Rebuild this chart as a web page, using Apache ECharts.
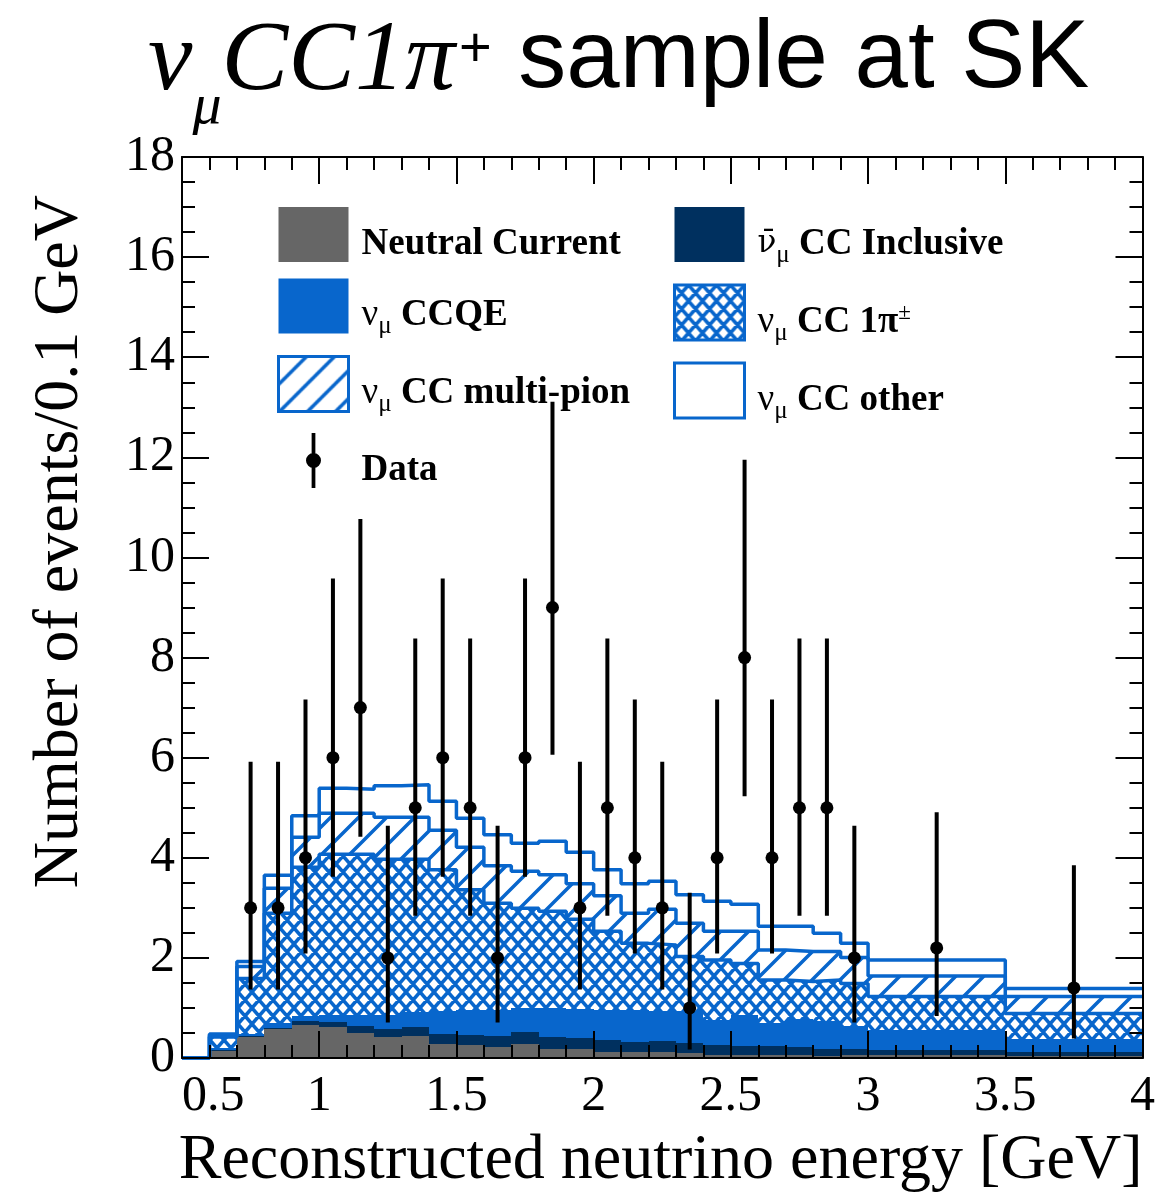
<!DOCTYPE html>
<html><head><meta charset="utf-8">
<script src="https://cdn.jsdelivr.net/npm/echarts@6/dist/echarts.min.js"></script>
<style>html,body{margin:0;padding:0;background:#fff}#chart{width:1158px;height:1196px}</style>
</head><body><div id="chart"></div>
<script>
// ---- data (events / 0.1 GeV) ----
const binEdges = [0.5,0.6,0.7,0.8,0.9,1.0,1.1,1.2,1.3,1.4,1.5,1.6,1.7,1.8,1.9,2.0,2.1,2.2,2.3,2.4,2.5,2.6,2.7,2.8,2.9,3.0,3.5,4.0];
const neutralCurrent = [0,0.14,0.41,0.57,0.66,0.61,0.49,0.41,0.43,0.28,0.25,0.22,0.27,0.18,0.18,0.12,0.11,0.11,0.10,0.06,0.06,0.05,0.05,0.04,0.05,0.05,0.04];
const numubarCCIncl = [0,0.01,0.02,0.02,0.07,0.10,0.14,0.16,0.18,0.19,0.21,0.22,0.24,0.23,0.21,0.24,0.20,0.22,0.19,0.20,0.18,0.18,0.17,0.14,0.12,0.10,0.07];
const numuCCQE = [0,0.05,0.04,0.10,0.10,0.14,0.22,0.29,0.30,0.46,0.49,0.51,0.48,0.59,0.58,0.59,0.64,0.60,0.64,0.49,0.62,0.46,0.55,0.55,0.47,0.41,0.27];
const numuCC1pi = [0,0.22,1.12,2.20,2.98,3.22,3.22,3.11,3.06,2.83,2.41,2.14,2.00,1.93,1.80,1.58,1.34,1.33,1.10,1.21,1.03,0.87,0.76,0.83,0.85,0.67,0.51];
const numuCCMultiPi = [0,0.03,0.24,0.50,0.60,0.82,0.82,0.84,0.84,0.79,0.85,0.75,0.74,0.73,0.71,0.71,0.60,0.71,0.66,0.57,0.64,0.60,0.60,0.57,0.52,0.41,0.34];
const numuCCOther = [0,0.03,0.10,0.26,0.43,0.50,0.48,0.63,0.65,0.58,0.58,0.62,0.56,0.67,0.63,0.52,0.59,0.56,0.57,0.60,0.54,0.47,0.50,0.36,0.28,0.32,0.16];

const dataE = [0.75,0.85,0.95,1.05,1.15,1.25,1.35,1.45,1.55,1.65,1.75,1.85,1.95,2.05,2.15,2.25,2.35,2.45,2.55,2.65,2.75,2.85,2.95,3.25,3.75];
const dataN = [3,3,4,6,7,2,5,6,5,2,6,9,3,5,4,3,1,4,8,4,5,5,2,2.2,1.4];
const dataLow = [1.37,1.37,2.09,3.62,4.42,0.71,2.84,3.62,2.84,0.71,3.62,6.06,1.37,2.84,2.09,1.37,0.17,2.09,5.23,2.09,2.84,2.84,0.71,0.84,0.39];
const dataHigh = [5.92,5.92,7.16,9.58,10.77,4.64,8.38,9.58,8.38,4.64,9.58,13.11,5.92,8.38,7.16,5.92,3.30,7.16,11.95,7.16,8.38,8.38,4.64,4.91,3.85];

const xTicks = {min:0.5, max:4, interval:0.5};
const yTicks = {min:0, max:18, interval:2};

// ---- styles ----
const BLUE = '#0866cc';
const GRAY = '#666666';
const NAVY = '#00305f';
const SERIF = 'Liberation Serif';

function makeCross(){
  const w=14,h=16,c=document.createElement('canvas');c.width=w;c.height=h;
  const g=c.getContext('2d');g.fillStyle='#fff';g.fillRect(0,0,w,h);
  g.strokeStyle=BLUE;g.lineWidth=3.5;g.beginPath();
  for(let k=-2;k<=2;k++){g.moveTo(k*w-w,-h);g.lineTo(k*w+2*w,2*h);g.moveTo(k*w+w,-h);g.lineTo(k*w-2*w,2*h);}
  g.stroke();return c;
}
function makeHatch(){
  const w=28,h=28,c=document.createElement('canvas');c.width=w;c.height=h;
  const g=c.getContext('2d');g.fillStyle='#fff';g.fillRect(0,0,w,h);
  g.strokeStyle=BLUE;g.lineWidth=3.5;g.beginPath();
  for(let k=-2;k<=2;k++){g.moveTo(k*w+w,-h);g.lineTo(k*w-2*w,2*h);}
  g.stroke();return c;
}
const crossPat = {image: makeCross(), repeat:'repeat'};
const hatchPat = {image: makeHatch(), repeat:'repeat'};

// ---- stacking ----
const layers = [
  {key:'nc', vals:neutralCurrent, fill:GRAY},
  {key:'anti', vals:numubarCCIncl, fill:NAVY},
  {key:'ccqe', vals:numuCCQE, fill:BLUE},
  {key:'onepi', vals:numuCC1pi, fill:crossPat, outline:true},
  {key:'multi', vals:numuCCMultiPi, fill:hatchPat, outline:true},
  {key:'other', vals:numuCCOther, fill:'#ffffff', outline:true}
];
let base = neutralCurrent.map(()=>0);
const series = [];
layers.forEach((L)=>{
  const top = base.map((b,i)=>b+L.vals[i]);
  const data = L.vals.map((v,i)=>[binEdges[i], binEdges[i+1], base[i], top[i]]);
  const fill = L.fill;
  series.push({
    type:'custom', name:L.key, data, z:2, silent:true,
    itemStyle:{color: typeof fill==='string'?fill:BLUE},
    encode:{x:[0,1], y:[2,3]},
    renderItem:(params, api)=>{
      const p0 = api.coord([api.value(0), api.value(2)]);
      const p1 = api.coord([api.value(1), api.value(3)]);
      const x0=Math.round(p0[0]), x1=Math.round(p1[0]), y0=Math.round(p0[1]), y1=Math.round(p1[1]);
      if (y0-y1 <= 0) return null;
      return {type:'rect', shape:{x:x0, y:y1, width:x1-x0, height:y0-y1}, style:{fill:fill}};
    }
  });
  if (L.outline){
    const pts = top.map((v,i)=>[binEdges[i], v]);
    pts.push([binEdges[binEdges.length-1], top[top.length-1]]);
    series.push({type:'line', data:pts, step:'end', symbol:'none', silent:true, z:3,
      lineStyle:{color:BLUE, width:3.5}});
  }
  base = top;
});

series.push({
  type:'custom', name:'errbars', z:5, silent:true,
  data: dataE.map((x,i)=>[x, dataLow[i], dataHigh[i]]),
  encode:{x:0, y:[1,2]},
  renderItem:(params, api)=>{
    const a = api.coord([api.value(0), api.value(1)]);
    const b = api.coord([api.value(0), api.value(2)]);
    return {type:'line', shape:{x1:a[0], y1:a[1], x2:b[0], y2:b[1]}, style:{stroke:'#000', lineWidth:4}};
  }
});
series.push({
  type:'scatter', name:'data', z:6, silent:true, symbolSize:13,
  itemStyle:{color:'#000', opacity:1},
  data: dataE.map((x,i)=>[x, dataN[i]])
});

const legendLabels = {
  nc:'{sp| }{t|Neutral Current}',
  anti:'{sp| }{ga|ν\u0304}{s|μ}{t| CC Inclusive}',
  ccqe:'{sp| }{g|ν}{s|μ}{t| CCQE}',
  onepi:'{sp| }{g|ν}{s|μ}{t| CC 1π}{p|±}',
  multi:'{sp| }{g|ν}{s|μ}{t| CC multi-pion}',
  other:'{sp| }{g|ν}{s|μ}{t| CC other}',
  data:'{sp| }{t|Data}'
};
const legendText = {
  fontFamily:SERIF, fontWeight:'bold', fontSize:37, color:'#000',
  rich:{
    sp:{width:8, height:10, fontSize:10, lineHeight:55, verticalAlign:'top'},
    t:{fontFamily:SERIF, fontWeight:'bold', fontSize:37, height:30, lineHeight:55, verticalAlign:'top', color:'#000', padding:[22,0,0,0]},
    g:{fontFamily:SERIF, fontWeight:'normal', fontSize:37, height:30, lineHeight:55, verticalAlign:'top', color:'#000', padding:[22,0,0,0]},
    ga:{fontFamily:'DejaVu Serif', fontWeight:'normal', fontSize:31, height:30, lineHeight:55, verticalAlign:'top', color:'#000', padding:[22,0,0,0]},
    s:{fontFamily:SERIF, fontWeight:'normal', fontSize:25, height:16, lineHeight:55, verticalAlign:'top', color:'#000', padding:[40,0,0,0]},
    p:{fontFamily:SERIF, fontWeight:'normal', fontSize:23, height:16, lineHeight:55, verticalAlign:'top', color:'#000', padding:[20,0,0,0]}
  }
};
const dataIcon = 'path://M4.5,0 L7.5,0 L7.5,44 L4.5,44 Z M6,16 A6,6 0 1,1 6,28 A6,6 0 1,1 6,16 Z';
function legendCommon(left, items){
  return {left, top:207, orient:'vertical', itemWidth:70, itemHeight:55, itemGap:16,
    selectedMode:false, padding:0, data:items, formatter:n=>legendLabels[n], textStyle:legendText};
}

const axisLineStyle = {color:'#000', width:2};
function xAx(pos, showLabel){
  return Object.assign({type:'value', position:pos, z:10,
    axisLine:{onZero:false, lineStyle:axisLineStyle},
    axisTick:{inside:true, length:27, lineStyle:axisLineStyle},
    minorTick:{show:true, splitNumber:5, length:13, lineStyle:axisLineStyle},
    splitLine:{show:false}, minorSplitLine:{show:false},
    axisLabel:{show:showLabel, fontFamily:SERIF, fontSize:50, color:'#000', margin:14, alignMinLabel:'left'}
  }, xTicks);
}
function yAx(pos, showLabel){
  return Object.assign({type:'value', position:pos, z:10,
    axisLine:{onZero:false, lineStyle:axisLineStyle},
    axisTick:{inside:true, length:27, lineStyle:axisLineStyle},
    minorTick:{show:true, splitNumber:4, length:13, lineStyle:axisLineStyle},
    splitLine:{show:false}, minorSplitLine:{show:false},
    axisLabel:{show:showLabel, fontFamily:SERIF, fontSize:50, color:'#000', margin:7}
  }, yTicks);
}
const xBottom = xAx('bottom', true);
Object.assign(xBottom, {name:'Reconstructed neutrino energy [GeV]', nameLocation:'end', nameGap:0,
  nameTextStyle:{fontFamily:SERIF, fontSize:64, color:'#000', align:'right', verticalAlign:'top', padding:[71,0,0,0]}});
const yLeft = yAx('left', true);
Object.assign(yLeft, {name:'Number of events/0.1 GeV', nameLocation:'end', nameRotate:90, nameGap:-38,
  nameTextStyle:{fontFamily:SERIF, fontSize:64, color:'#000', align:'right', verticalAlign:'bottom', padding:[0,0,90,0]}});

const option = {
  animation:false,
  backgroundColor:'#fff',
  title:{
    text:'{a|ν}{b|μ}{a|CC1π}{c|+}{d| sample at SK}',
    left:148, top:13, padding:0,
    textStyle:{fontWeight:'normal', rich:{
      a:{fontFamily:SERIF, fontStyle:'italic', fontWeight:'normal', fontSize:100, lineHeight:110, verticalAlign:'top', color:'#000'},
      b:{fontFamily:SERIF, fontStyle:'italic', fontWeight:'normal', fontSize:58, lineHeight:40, verticalAlign:'top', color:'#000', padding:[66,0,0,0]},
      c:{fontFamily:'Liberation Sans', fontWeight:'normal', fontSize:56, lineHeight:60, verticalAlign:'top', color:'#000', padding:[10,0,0,4]},
      d:{fontFamily:'Liberation Sans', fontWeight:'normal', fontSize:96, lineHeight:110, verticalAlign:'top', color:'#000'}
    }}
  },
  grid:{left:182, right:10, top:157, bottom:138},
  xAxis:[xBottom, xAx('top', false)],
  yAxis:[yLeft, yAx('right', false)],
  legend:[
    legendCommon(277, [
      {name:'nc', icon:'rect', itemStyle:{color:GRAY}},
      {name:'ccqe', icon:'rect', itemStyle:{color:BLUE}},
      {name:'multi', icon:'rect', itemStyle:{color:hatchPat, borderColor:BLUE, borderWidth:3}},
      {name:'data', icon:dataIcon, itemStyle:{color:'#000', opacity:1}}
    ]),
    legendCommon(673, [
      {name:'anti', icon:'rect', itemStyle:{color:NAVY}},
      {name:'onepi', icon:'rect', itemStyle:{color:crossPat, borderColor:BLUE, borderWidth:3}},
      {name:'other', icon:'rect', itemStyle:{color:'#ffffff', borderColor:BLUE, borderWidth:3}}
    ])
  ],
  series
};
const chart = echarts.init(document.getElementById('chart'), null, {renderer:'canvas'});
chart.setOption(option);
</script>
</body></html>
